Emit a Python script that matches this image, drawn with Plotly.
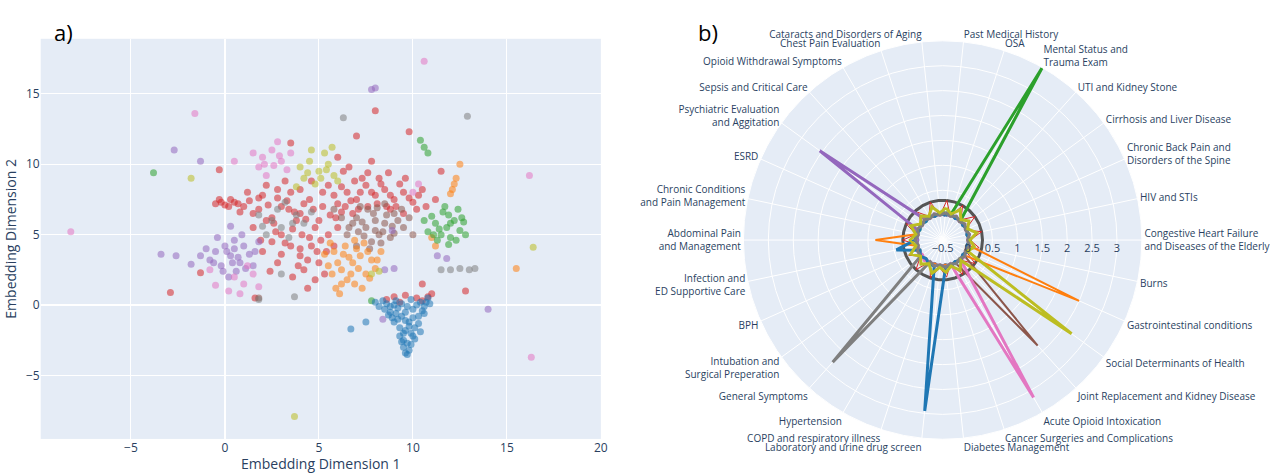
import plotly.graph_objects as go

# ---- panel a) embedding scatter ----
blue = [(9.7,-3.5),(9.5,-3.0),(9.9,-2.8),(9.3,-2.2),(10.1,-2.4),(9.6,-1.8),(9.8,-1.5),(9.0,-1.2),(10.3,-1.3),
        (9.4,-0.8),(10.0,-0.9),(8.8,-0.5),(10.5,-0.4),(9.2,-0.2),(9.7,-0.1),(10.2,0.0),(8.6,0.1),(10.7,0.2),
        (9.1,0.3),(9.9,0.4),(8.4,0.3),(10.8,0.5),(9.5,-2.5),(10.4,-1.9),(8.9,-0.9),(9.6,-1.1),(10.0,-0.3),
        (9.3,-1.6),(8.2,-0.1),(10.9,0.1),(9.8,-3.2),(9.4,-2.6),(10.6,-0.6),(8.7,-0.7),(9.9,-2.0),(7.5,-1.2),
        (6.7,-1.7),(9.2,-1.0),(10.1,-1.6),(8.5,-0.3),(9.0,0.0),(10.4,0.2),(9.6,-0.5),(10.6,-0.1),(9.8,-1.2),
        (9.5,-2.0),(9.7,-2.7),(8.0,0.2),(10.3,-0.8),(9.1,-0.6),(9.4,0.1),(8.8,-0.1),(9.6,-3.4),(10.0,-2.2)]
red = [(9.0,0.6),(9.6,0.7),(10.2,0.5),(10.8,0.6),(8.6,0.4),(11.0,0.8),(9.3,0.2),(10.5,0.3),
       (0.5,7.3),(1.0,7.0),(-0.3,7.5),(1.5,6.5),(2.0,7.8),(2.5,6.2),(3.0,7.0),(3.5,8.0),(4.0,6.5),(4.5,7.5),
       (5.0,6.0),(5.5,8.5),(6.0,7.2),(6.5,8.0),(7.0,7.5),(7.5,8.5),(8.0,7.8),(8.5,8.2),(9.0,7.5),(9.5,8.0),
       (10.0,7.3),(10.5,8.2),(3.0,5.0),(3.5,4.2),(4.0,3.5),(4.5,4.8),(5.0,3.0),(4.2,2.5),(5.5,5.0),(6.0,5.5),
       (2.5,4.5),(2.0,3.8),(1.5,5.5),(2.8,3.0),(3.8,6.0),(4.8,5.5),(5.2,7.0),(6.8,6.5),(7.3,9.0),(6.3,9.5),
       (8.2,9.0),(8.8,6.8),(9.5,6.5),(10.2,6.8),(11.2,7.5),(3.2,8.8),(2.2,8.5),(1.2,8.0),(4.6,8.8),(5.8,4.2),
       (3.6,2.0),(4.4,1.2),(6.6,9.8),(7.8,10.2),(1.8,6.8),(2.6,5.8),(5.6,6.4),(4.2,7.2),(3.4,6.8),(6.2,6.6),
       (7.6,7.0),(8.6,7.0),(0.2,7.0),(-0.5,7.2),(4.0,4.0),(3.0,3.6),(5.3,2.2),(2.4,2.4),(1.6,0.5),(6.0,10.5),
       (7.0,12.0),(8.0,13.8),(10.5,1.5),(12.8,1.0),(-2.9,0.9),(3.5,11.5),(9.8,12.3),(4.8,1.8),(11.5,9.5),
       (-0.2,7.3),(0.0,7.1),(0.3,7.5),(0.7,7.2),(1.3,7.4),(-0.3,9.6),(-1.3,2.3),(2.3,7.1),(2.8,7.6),(3.3,7.4),
       (3.7,6.6),(4.3,6.1),(4.7,6.8),(5.2,8.0),(5.8,7.8),(6.2,8.4),(6.7,7.4),(7.2,8.0),(7.8,8.0),(8.3,8.6),
       (8.8,7.8),(9.3,8.6),(9.8,7.6),(10.3,7.8),(10.7,7.0),(3.6,5.4),(4.1,5.0),(4.6,4.2),(5.1,4.6),(5.4,3.8),
       (3.2,4.4),(2.7,5.2),(2.2,6.0),(1.9,4.6),(4.9,3.8),(4.4,3.2),(3.9,2.8),(6.4,7.0),(5.9,6.2),(7.1,6.8),
       (8.1,7.2),(9.1,7.0),(6.9,8.8),(7.6,9.4),(8.7,9.4),(9.6,9.0),(4.0,8.2),(2.8,8.2),(1.8,7.6),(0.8,6.6)]
brown = [(7.5,5.5),(8.0,6.0),(8.5,5.8),(9.0,6.5),(7.0,6.2),(6.5,5.0),(8.2,5.0),(9.5,5.5),(7.8,4.5),(8.8,4.8),
         (7.2,7.0),(8.5,7.2),(9.2,6.0),(6.8,5.8),(7.6,6.8),(8.0,5.3),(9.8,6.2),(6.2,6.2),(7.4,4.9),(8.6,6.4),
         (10.0,5.0),(7.0,4.2),(1.8,0.5),(5.8,6.8),(7.3,5.9),(7.9,6.5),(8.4,5.2),(8.9,5.6),(9.4,6.8),(6.6,5.5),
         (7.1,5.2),(8.1,6.9),(9.0,5.1),(7.7,4.0),(8.3,4.4)]
orange = [(6.8,3.0),(6.2,2.5),(7.2,3.5),(5.8,3.8),(7.5,2.2),(6.5,1.8),(7.8,3.2),(6.0,3.0),(7.0,4.0),(6.4,4.2),
          (5.5,2.8),(8.0,2.6),(6.9,1.5),(7.4,4.4),(5.9,1.2),(6.6,3.4),(7.7,1.9),(5.3,3.6),(8.3,3.8),(6.1,0.8),
          (12.1,8.2),(12.2,8.6),(12.3,9.0),(12.0,7.9),(11.2,4.2),(11.0,4.8),(15.5,2.6),(12.5,10.0),
          (6.3,3.6),(7.1,2.6),(6.7,2.2),(7.6,3.8),(5.7,2.2),(6.2,1.5),(7.3,1.2),(8.1,3.2),(6.9,4.6),(5.6,4.4)]
green = [(11.8,5.5),(11.2,5.8),(12.2,6.0),(11.5,5.0),(12.5,5.3),(11.0,6.3),(12.0,4.8),(11.6,6.6),(12.7,5.9),
         (10.8,5.2),(11.9,4.3),(12.4,6.8),(11.3,4.6),(12.8,5.0),(10.6,6.0),(11.7,7.0),(10.4,11.7),(10.6,11.2),
         (10.8,10.8),(-3.8,9.4),(7.8,0.3),(11.4,5.4),(12.0,5.8),(12.3,4.6),(11.1,5.0),(12.6,6.2),(11.9,6.4)]
purple = [(0.3,3.5),(-0.5,3.8),(0.8,3.0),(-0.2,2.8),(1.0,4.2),(0.5,4.6),(-0.8,3.2),(1.3,3.6),(0.0,4.2),(0.6,2.4),
          (-0.4,4.8),(1.5,2.8),(0.2,2.0),(-1.0,4.0),(1.8,4.5),(0.9,5.0),(-1.3,3.5),(0.4,3.0),(11.3,3.5),(11.8,3.3),
          (8.5,2.5),(9.0,2.6),(8.9,5.3),(7.8,15.3),(8.0,15.4),(-3.4,3.6),(14.0,-0.3),(8.4,-1.0),
          (-2.6,3.5),(-1.8,2.9),(-2.7,11.0),(-1.3,10.2),(0.1,3.8),(0.7,3.4),(-0.6,3.0),(1.1,2.6),(0.3,5.6),
          (-0.1,2.4),(1.6,3.8),(0.5,4.0)]
pink = [(2.0,10.5),(2.5,11.0),(3.0,10.2),(1.8,9.8),(3.3,9.6),(2.2,9.2),(2.8,11.6),(1.5,10.8),(3.5,10.8),(2.6,9.9),
        (0.5,2.0),(1.0,1.5),(1.5,2.2),(0.2,1.0),(1.8,1.3),(0.8,0.8),(-0.8,2.5),(1.2,2.8),(-1.6,13.6),(10.6,17.3),
        (16.3,-3.7),(-0.5,1.4),(10.3,8.6),(10.0,8.0),(16.2,9.2),(-8.2,5.2),(0.5,10.2),(2.1,10.0),(2.9,10.6)]
olive = [(5.0,9.5),(4.5,10.2),(5.5,10.0),(4.2,9.0),(5.8,9.2),(4.8,8.6),(5.3,10.8),(4.0,9.8),(6.0,8.8),(5.1,9.0),
         (4.6,11.0),(5.7,11.2),(3.8,8.4),(-1.8,9.0),(7.8,2.2),(8.2,2.4),(16.4,4.1),(3.7,-7.9),(4.4,9.4),(5.4,9.6)]
grey = [(2.5,6.0),(3.0,5.5),(3.8,6.4),(2.2,5.0),(3.4,4.8),(4.2,5.8),(1.8,6.4),(2.8,6.8),(4.6,6.6),(3.2,7.3),
        (11.5,2.5),(12.0,2.5),(12.5,2.6),(13.0,2.5),(13.3,2.6),(3.7,0.6),(12.9,13.4),(6.3,13.3),(1.8,0.4),
        (3.0,2.2),(2.0,5.6),(3.6,5.8)]

# ---- panel b) topic radar ----
categories = ["Past Medical History", "OSA", "Mental Status and<br>Trauma Exam", "UTI and Kidney Stone",
              "Cirrhosis and Liver Disease", "Chronic Back Pain and<br>Disorders of the Spine", "HIV and STIs",
              "Congestive Heart Failure<br>and Diseases of the Elderly", "Burns", "Gastrointestinal conditions",
              "Social Determinants of Health", "Joint Replacement and Kidney Disease", "Acute Opioid Intoxication",
              "Cancer Surgeries and Complications", "Diabetes Management", "Laboratory and urine drug screen",
              "COPD and respiratory illness", "Hypertension", "General Symptoms",
              "Intubation and<br>Surgical Preperation", "BPH", "Infection and<br>ED Supportive Care",
              "Abdominal Pain<br>and Management", "Chronic Conditions<br>and Pain Management", "ESRD",
              "Psychiatric Evaluation<br>and Aggitation", "Sepsis and Critical Care", "Opioid Withdrawal Symptoms",
              "Chest Pain Evaluation", "Cataracts and Disorders of Aging"]
radial_ticks = [-0.5, 0, 0.5, 1, 1.5, 2, 2.5, 3]

r_red = [0.3,0.0,0.3,0.05,0.3,0.0,0.3,0.05,0.25,0.0,0.3,0.05,0.3,0.0,0.25,0.05,0.3,0.0,0.3,0.05,
         0.25,0.0,0.3,0.05,0.3,0.0,0.25,0.05,0.3,0.0]
r_olive = [0.15,0.05,0.2,0.05,0.15,0.05,0.2,0.05,0.15,0.05,2.7,0.05,0.2,0.05,0.15,0.05,0.2,0.05,0.15,0.05,
           0.2,0.05,0.15,0.05,0.2,0.05,0.15,0.05,0.2,0.05]
r_circle = [0.3] * 30
r_green = [0.05,0.05,3.5,0.05,0.0,0.05,0.0,0.05,0.0,0.05,0.0,0.05,0.0,0.05,0.0,0.05,0.0,0.05,0.0,0.05,
           0.0,0.05,0.0,0.05,0.0,0.05,0.0,0.05,0.0,0.05]
r_purple = [0.0,0.05,0.0,0.05,0.0,0.05,0.0,0.05,0.0,0.05,0.0,0.05,0.0,0.05,0.0,0.05,0.0,0.05,0.0,0.05,
            0.0,0.05,0.0,0.05,0.1,2.55,0.1,0.05,0.0,0.05]
r_orange = [0.0,0.05,0.0,0.05,0.0,0.05,0.0,0.05,0.05,2.5,0.0,0.05,0.0,0.05,0.0,0.05,0.0,0.05,0.0,0.05,
            0.0,0.05,0.85,0.05,0.0,0.05,0.0,0.05,0.0,0.05]
r_brown = [0.05,0.0,0.05,0.0,0.05,0.0,0.05,0.0,0.05,0.0,0.05,2.35,0.05,0.0,0.05,0.0,0.05,0.0,0.05,0.0,
           0.05,0.0,0.05,0.0,0.05,0.0,0.05,0.0,0.05,0.0]
r_pink = [0.05,0.0,0.05,0.0,0.05,0.0,0.05,0.0,0.05,0.0,0.05,0.05,3.15,0.0,0.05,0.0,0.05,0.0,0.05,0.0,
          0.05,0.0,0.05,0.0,0.05,0.0,0.05,0.0,0.05,0.0]
r_blue = [0.0,0.05,0.0,0.05,0.0,0.05,0.0,0.05,0.0,0.05,0.0,0.05,0.0,0.05,0.05,2.95,0.05,0.05,0.0,0.05,
          0.0,0.45,0.05,0.05,0.0,0.05,0.0,0.05,0.0,0.05]
r_grey = [0.05,0.0,0.05,0.0,0.05,0.0,0.05,0.0,0.05,0.0,0.05,0.0,0.05,0.0,0.05,0.0,0.05,0.0,2.8,0.05,
          0.05,0.0,0.05,0.0,0.05,0.0,0.05,0.0,0.05,0.0]

fig = go.Figure()

clusters = [(red, "#d62728"), (brown, "#8c564b"), (orange, "#ff7f0e"), (green, "#2ca02c"),
            (purple, "#9467bd"), (pink, "#e377c2"), (olive, "#bcbd22"), (grey, "#7f7f7f"), (blue, "#1f77b4")]
for pts, col in clusters:
    fig.add_trace(go.Scatter(x=[p[0] for p in pts], y=[p[1] for p in pts], mode="markers",
                             marker=dict(color=col, size=7, opacity=0.55), showlegend=False))

theta = categories + categories[:1]
radar = [(r_circle, "#555555", 3), (r_red, "#d62728", 1), (r_green, "#2ca02c", 3), (r_purple, "#9467bd", 3),
         (r_orange, "#ff7f0e", 2), (r_brown, "#8c564b", 2), (r_pink, "#e377c2", 3), (r_blue, "#1f77b4", 3),
         (r_grey, "#7f7f7f", 3), (r_olive, "#bcbd22", 3)]
for r, col, w in radar:
    fig.add_trace(go.Scatterpolar(r=r + r[:1], theta=theta, mode="lines",
                                  line=dict(color=col, width=w), showlegend=False))

fig.update_layout(
    width=1280, height=473, margin=dict(l=0, r=0, t=0, b=0),
    font=dict(family="Open Sans", color="#2a3f5f", size=12),
    plot_bgcolor="#E5ECF6",
    xaxis=dict(domain=[0.032, 0.472], range=[-9.8, 20], dtick=5, gridcolor="white", zerolinecolor="white",
               zerolinewidth=2, title=dict(text="Embedding Dimension 1", standoff=4)),
    yaxis=dict(domain=[0.072, 0.918], range=[-9.5, 18.9], dtick=5, gridcolor="white", zerolinecolor="white",
               zerolinewidth=2, title=dict(text="Embedding Dimension 2", standoff=6)),
    polar=dict(
        domain=dict(x=[0.584, 0.897], y=[0.07, 0.915]),
        bgcolor="#E5ECF6",
        angularaxis=dict(rotation=84, direction="clockwise", gridcolor="white", linecolor="white",
                         tickfont=dict(size=10)),
        radialaxis=dict(range=[-0.5, 3.5], tickvals=radial_ticks, angle=0, gridcolor="white",
                        linecolor="white", tickfont=dict(size=11), showline=False),
    ),
    annotations=[
        dict(text="a)", x=52 / 1280, y=1 - 15 / 473, xref="paper", yref="paper", showarrow=False,
             font=dict(size=22, color="black")),
        dict(text="b)", x=712 / 1280, y=1 - 15 / 473, xref="paper", yref="paper", showarrow=False,
             font=dict(size=22, color="black")),
    ],
)

fig.write_html("out.html", config={"displayModeBar": False},
               post_script="document.body.style.margin='0';")
